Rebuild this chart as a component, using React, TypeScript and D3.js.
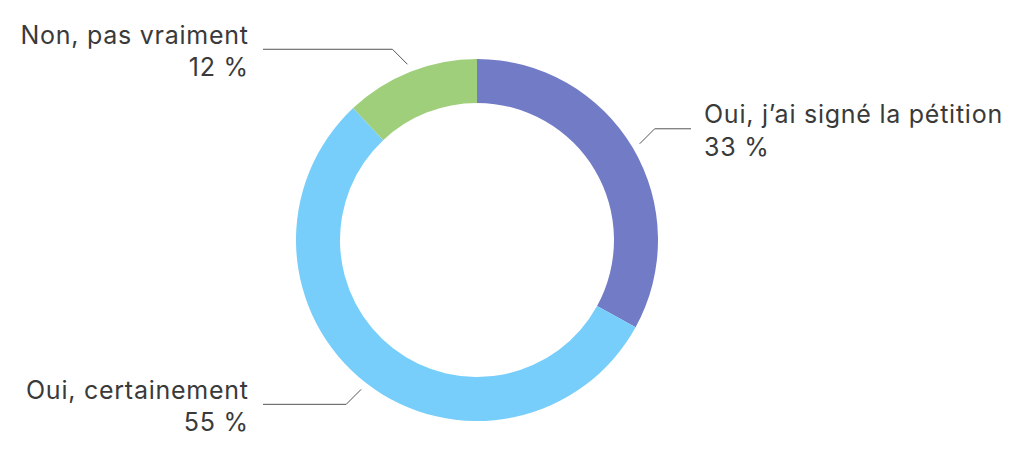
import React from "react";
import * as d3 from "d3";

const categories = ["Oui, j’ai signé la pétition", "Oui, certainement", "Non, pas vraiment"];
const values = [33, 55, 12];
const valueLabels = ["33 %", "55 %", "12 %"];
const colors = ["#727cc6", "#77cefa", "#9fcf7b"];

const W = 1024;
const H = 454;
const cx = 477;
const cy = 240;
const outerR = 181;
const innerR = 137;
const FONT = "Inter, 'Helvetica Neue', Helvetica, Arial, sans-serif";

export default function App() {
  const pie = d3.pie<number>().sort(null).value((d) => d);
  const arcs = pie(values);
  const arcGen = d3.arc<d3.PieArcDatum<number>>().innerRadius(innerR).outerRadius(outerR);

  return (
    <svg width={W} height={H} style={{ position: "absolute", left: 0, top: 0 }}>
      <rect width={W} height={H} fill="#fff" />
      <g transform={`translate(${cx},${cy})`}>
        {arcs.map((a, i) => (
          <path key={i} d={arcGen(a) || ""} fill={colors[i]} />
        ))}
        {arcs.map((a, i) => {
          const mid = (a.startAngle + a.endAngle) / 2;
          const r0 = outerR + 8;
          const px = Math.sin(mid) * r0;
          const py = -Math.cos(mid) * r0;
          const right = px > 0;
          const sx = right ? 1 : -1;
          const sy = py < 0 ? -1 : 1;
          const ex = px + sx * 15;
          const ey = py + sy * 15;
          const lx = sx * 214;
          const tx = right ? lx + 13 : lx - 15;
          const anchor = right ? "start" : "end";
          const style = { letterSpacing: "0.75px" };
          return (
            <g key={"l" + i}>
              <path
                d={`M${px},${py}L${ex},${ey}L${lx},${ey}`}
                fill="none"
                stroke="#555"
                strokeWidth={1}
              />
              <text
                x={right ? tx : tx + 0.75}
                y={ey - 5.5}
                textAnchor={anchor}
                fontFamily={FONT}
                fontSize={25}
                fill="#3a3a3a"
                style={style}
              >
                {categories[i]}
              </text>
              <text
                x={right ? tx : tx + 0.75}
                y={ey + 27}
                textAnchor={anchor}
                fontFamily={FONT}
                fontSize={25}
                fill="#3a3a3a"
                style={style}
              >
                {valueLabels[i]}
              </text>
            </g>
          );
        })}
      </g>
    </svg>
  );
}
